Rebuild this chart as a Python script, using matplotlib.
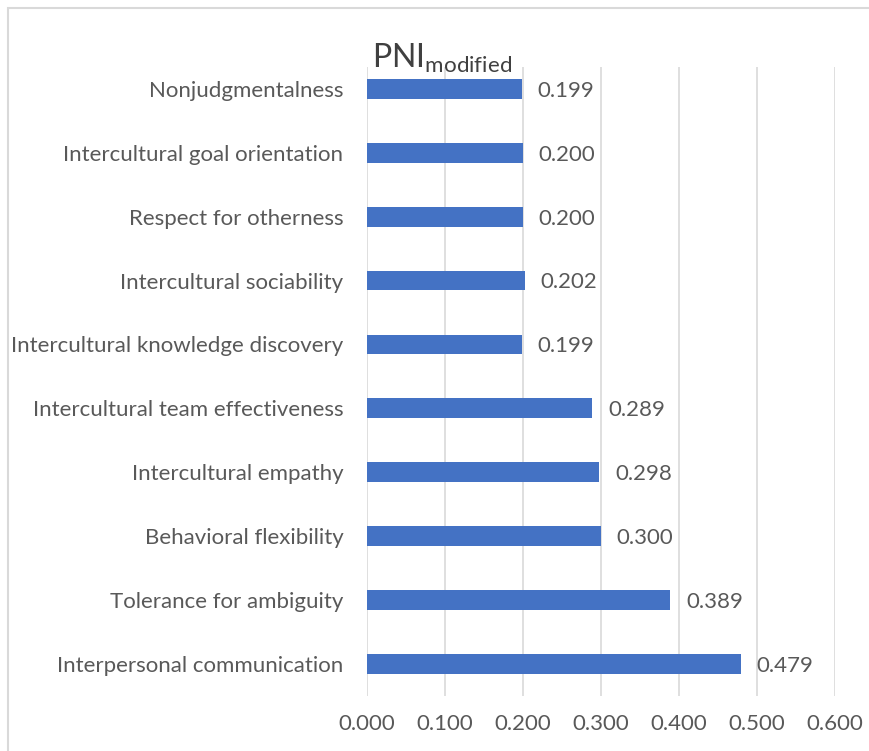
import matplotlib.pyplot as plt
from matplotlib.patches import Rectangle

# data, top to bottom as in the chart
labels = ["Nonjudgmentalness", "Intercultural goal orientation", "Respect for otherness",
          "Intercultural sociability", "Intercultural knowledge discovery",
          "Intercultural team effectiveness", "Intercultural empathy",
          "Behavioral flexibility", "Tolerance for ambiguity", "Interpersonal communication"]
values = [0.199, 0.200, 0.200, 0.202, 0.199, 0.289, 0.298, 0.300, 0.389, 0.479]
ticks = [0.0, 0.1, 0.2, 0.3, 0.4, 0.5, 0.6]

plt.rcParams['font.family'] = ['Lato', 'DejaVu Sans']
txt = '#595959'
fs = 16

fig = plt.figure(figsize=(8.69, 7.51), dpi=100)
ax = fig.add_axes([0.4223, 0.0732, 0.5386, 0.8375])

# draw bottom-to-top so first label is at top
pos = list(range(len(labels)))[::-1]
ax.barh(pos, values, height=0.31, color='#4472C4', zorder=3)
for p, v in zip(pos, values):
    ax.text(v + 0.02, p - 0.03, f"{v:.3f}", va='center', ha='left', fontsize=fs, color=txt)

ax.set_yticks(pos)
ax.set_yticklabels(labels, fontsize=fs, color=txt)
ax.set_xticks(ticks)
ax.set_xticklabels([f"{t:.3f}" for t in ticks], fontsize=fs, color=txt)
ax.set_xlim(0, 0.6)
ax.set_ylim(-0.5, 9.34)
ax.tick_params(length=0, pad=13)
ax.tick_params(axis='y', pad=17)
ax.grid(axis='x', color='#d9d9d9', lw=1.2, zorder=0)
for s in ax.spines.values():
    s.set_visible(False)

fig.text(0.428, 0.91, r"PNI$_{\mathregular{modified}}$", fontsize=23, color='#404040', ha='left', va='baseline')

# chart border
fig.patches.append(Rectangle((8 / 869, -0.1), 1.2, (751 - 8) / 751 + 0.1, transform=fig.transFigure,
                             fill=False, edgecolor='#d9d9d9', lw=1.5))

fig.savefig('out.png', dpi=100)
